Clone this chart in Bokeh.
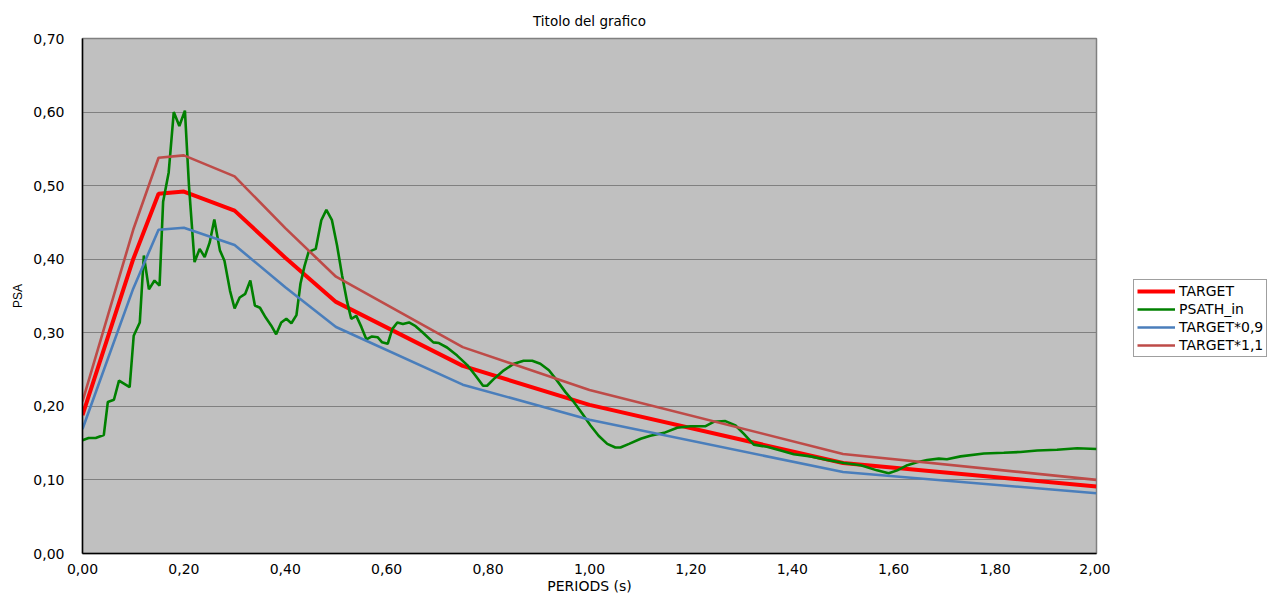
from bokeh.plotting import figure
from bokeh.models import Range1d, FixedTicker, Legend, LegendItem
from bokeh.layouts import row
from bokeh.embed import file_html
from bokeh.resources import INLINE

# ---- data ----
periods_target = [0.00, 0.10, 0.15, 0.20, 0.30, 0.40, 0.50, 0.75, 1.00, 1.50, 2.00]
target = [0.188, 0.400, 0.489, 0.492, 0.466, 0.402, 0.342, 0.255, 0.202, 0.123, 0.091]
target_09 = [round(v * 0.9, 4) for v in target]
target_11 = [round(v * 1.1, 4) for v in target]

periods_psath = [0.000, 0.012, 0.026, 0.042, 0.050, 0.062, 0.072, 0.093, 0.101, 0.113,
                 0.121, 0.131, 0.142, 0.152, 0.159, 0.170, 0.180, 0.191, 0.202, 0.210,
                 0.221, 0.231, 0.241, 0.251, 0.260, 0.271, 0.280, 0.291, 0.300, 0.310,
                 0.321, 0.331, 0.340, 0.350, 0.361, 0.372, 0.382, 0.392, 0.402, 0.412,
                 0.422, 0.430, 0.438, 0.446, 0.460, 0.471, 0.481, 0.492, 0.502, 0.512,
                 0.522, 0.530, 0.540, 0.550, 0.560, 0.571, 0.582, 0.591, 0.602, 0.611,
                 0.621, 0.632, 0.644, 0.657, 0.670, 0.681, 0.692, 0.703, 0.719, 0.739,
                 0.759, 0.775, 0.790, 0.798, 0.811, 0.831, 0.851, 0.870, 0.887, 0.903,
                 0.920, 0.936, 0.953, 0.969, 0.986, 1.002, 1.018, 1.035, 1.051, 1.061,
                 1.078, 1.101, 1.120, 1.147, 1.173, 1.199, 1.229, 1.245, 1.268, 1.288,
                 1.304, 1.324, 1.350, 1.377, 1.403, 1.436, 1.469, 1.502, 1.535, 1.567,
                 1.590, 1.607, 1.627, 1.646, 1.666, 1.689, 1.705, 1.732, 1.778, 1.817,
                 1.850, 1.883, 1.922, 1.962, 2.000]
psath_in = [0.154, 0.157, 0.157, 0.161, 0.206, 0.209, 0.235, 0.226, 0.296, 0.314,
            0.405, 0.359, 0.371, 0.364, 0.478, 0.518, 0.600, 0.581, 0.602, 0.500,
            0.396, 0.414, 0.403, 0.423, 0.454, 0.412, 0.398, 0.357, 0.333, 0.348,
            0.353, 0.371, 0.337, 0.334, 0.321, 0.310, 0.298, 0.314, 0.319, 0.313,
            0.324, 0.367, 0.391, 0.410, 0.414, 0.453, 0.467, 0.453, 0.419, 0.378,
            0.342, 0.319, 0.323, 0.308, 0.291, 0.295, 0.294, 0.287, 0.285, 0.305,
            0.314, 0.312, 0.314, 0.309, 0.301, 0.294, 0.287, 0.286, 0.280, 0.269,
            0.256, 0.242, 0.228, 0.228, 0.237, 0.249, 0.258, 0.262, 0.262, 0.258,
            0.249, 0.235, 0.219, 0.206, 0.190, 0.174, 0.160, 0.149, 0.144, 0.144,
            0.149, 0.156, 0.160, 0.164, 0.171, 0.173, 0.173, 0.179, 0.180, 0.174,
            0.163, 0.148, 0.145, 0.140, 0.135, 0.132, 0.127, 0.123, 0.120, 0.113,
            0.109, 0.113, 0.120, 0.124, 0.127, 0.129, 0.128, 0.132, 0.136, 0.137,
            0.138, 0.140, 0.141, 0.143, 0.142]

x_ticks = [0.0, 0.2, 0.4, 0.6, 0.8, 1.0, 1.2, 1.4, 1.6, 1.8, 2.0]
x_tick_labels = ["0,00", "0,20", "0,40", "0,60", "0,80", "1,00", "1,20", "1,40", "1,60", "1,80", "2,00"]
y_ticks = [0.0, 0.1, 0.2, 0.3, 0.4, 0.5, 0.6, 0.7]
y_tick_labels = ["0,00", "0,10", "0,20", "0,30", "0,40", "0,50", "0,60", "0,70"]

series_names = ["TARGET", "PSATH_in", "TARGET*0,9", "TARGET*1,1"]
series_colors = ["#FF0000", "#008000", "#4A7EBB", "#BE4B48"]
series_widths = [4, 2.6, 2.6, 2.6]

FONT = "DejaVu Sans"
MAIN_W = 1110
TOTAL_W = 1284
H = 596

p = figure(width=MAIN_W, height=H, output_backend="svg", toolbar_location=None,
           x_range=Range1d(0, 2), y_range=Range1d(0, 0.7),
           min_border_left=82, min_border_right=MAIN_W - 1096, min_border_top=38, min_border_bottom=43,
           title="Titolo del grafico")
p.title.align = "center"
p.title.text_font = FONT
p.title.text_font_size = "13.5px"
p.title.text_font_style = "normal"
p.title.text_color = "#000000"
p.title.standoff = 20

p.border_fill_color = "#FFFFFF"
p.background_fill_color = "#C0C0C0"
p.outline_line_color = "#808080"
p.outline_line_width = 1.5

p.xgrid.visible = False
p.ygrid.ticker = FixedTicker(ticks=y_ticks)
p.ygrid.grid_line_color = "#808080"
p.ygrid.grid_line_width = 1

p.xaxis.ticker = FixedTicker(ticks=x_ticks)
p.xaxis.major_label_overrides = {t: l for t, l in zip(x_ticks, x_tick_labels)}
p.yaxis.ticker = FixedTicker(ticks=y_ticks)
p.yaxis.major_label_overrides = {t: l for t, l in zip(y_ticks, y_tick_labels)}

for ax in (p.xaxis[0], p.yaxis[0]):
    ax.axis_line_color = "#000000"
    ax.axis_line_width = 1.5
    ax.major_tick_line_color = None
    ax.minor_tick_line_color = None
    ax.major_label_text_font = FONT
    ax.major_label_text_font_size = "14px"
    ax.major_label_text_color = "#000000"
    ax.axis_label_text_font = FONT
    ax.axis_label_text_font_style = "normal"
    ax.axis_label_text_color = "#000000"

p.xaxis.axis_label = "PERIODS (s)"
p.xaxis.axis_label_text_font_size = "14px"
p.xaxis.major_label_standoff = 4
p.xaxis.axis_label_standoff = 1
p.yaxis.axis_label = "PSA"
p.yaxis.axis_label_text_font = "Liberation Sans"
p.yaxis.axis_label_text_font_size = "12px"
p.yaxis.major_label_standoff = 12
p.yaxis.axis_label_standoff = 5

r_t = p.line(periods_target, target, line_color=series_colors[0], line_width=series_widths[0])
r_p = p.line(periods_psath, psath_in, line_color=series_colors[1], line_width=series_widths[1])
r_09 = p.line(periods_target, target_09, line_color=series_colors[2], line_width=series_widths[2])
r_11 = p.line(periods_target, target_11, line_color=series_colors[3], line_width=series_widths[3])

# legend panel to the right of the chart: same series, same styles,
# drawn in a view range where the lines are out of sight so only the legend shows
q = figure(width=TOTAL_W - MAIN_W, height=H, output_backend="svg", toolbar_location=None,
           x_range=Range1d(10, 11), y_range=Range1d(10, 11),
           min_border_left=0, min_border_right=0, min_border_top=0, min_border_bottom=0)
q.axis.visible = False
q.grid.visible = False
q.outline_line_color = None
q.background_fill_color = "#FFFFFF"
q.border_fill_color = "#FFFFFF"
series_x = [periods_target, periods_psath, periods_target, periods_target]
series_y = [target, psath_in, target_09, target_11]
items = []
for name, col, lw, xs, ys in zip(series_names, series_colors, series_widths, series_x, series_y):
    rr = q.line(xs, ys, line_color=col, line_width=lw)
    items.append(LegendItem(label=name, renderers=[rr]))

legend = Legend(items=items, location=(1133 - MAIN_W, 196))
legend.label_text_font = FONT
legend.label_text_font_size = "14px"
legend.label_text_color = "#000000"
legend.glyph_width = 38
legend.glyph_height = 16
legend.label_standoff = 4
legend.label_height = 16
legend.spacing = 2
legend.padding = 3
legend.margin = 0
legend.border_line_color = "#404040"
legend.border_line_width = 1
legend.background_fill_color = "#FFFFFF"
legend.background_fill_alpha = 1.0
q.add_layout(legend)

layout = row(p, q, spacing=0)
open("out.html", "w").write(file_html(layout, INLINE))
